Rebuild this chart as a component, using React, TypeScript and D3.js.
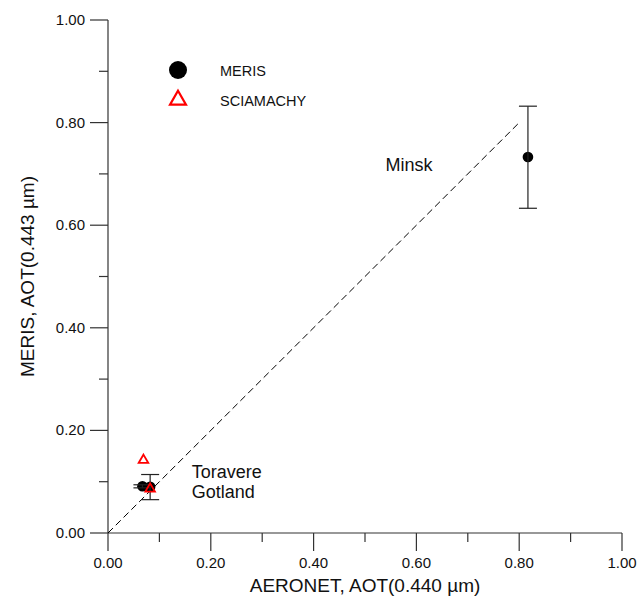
import React from "react";
import * as d3 from "d3";

const merisX = [0.067, 0.082, 0.817];
const merisY = [0.091, 0.09, 0.733];
const merisLow = [0.088, 0.065, 0.633];
const merisHigh = [0.094, 0.114, 0.832];
const sciaX = [0.069, 0.082];
const sciaY = [0.142, 0.086];
const majorTicks = [0, 0.2, 0.4, 0.6, 0.8, 1.0];
const minorTicks = [0.1, 0.3, 0.5, 0.7, 0.9];
const oneToOne = [0, 0.8];
const siteLabels = [
  { text: "Minsk", x: 0.54, y: 0.705 },
  { text: "Toravere", x: 0.163, y: 0.108 },
  { text: "Gotland", x: 0.163, y: 0.069 },
];
const legendItems = ["MERIS", "SCIAMACHY"];

const W = 640;
const H = 596;
const FONT = "Liberation Sans, Arial, sans-serif";

export default function App() {
  const x = d3.scaleLinear().domain([0, 1]).range([108, 622]);
  const y = d3.scaleLinear().domain([0, 1]).range([533, 20]);
  const fmt = d3.format(".2f");
  const tri = d3.symbol().type(d3.symbolTriangle);
  const triSmall = tri.size(40)() as string;
  const triLegend = tri.size(110)() as string;
  const axisColor = "#333";

  return (
    <svg
      width={W}
      height={H}
      style={{ position: "absolute", left: 0, top: 0, background: "#fff" }}
      fontFamily={FONT}
    >
      {/* axes */}
      <line x1={x(0)} x2={x(1)} y1={y(0)} y2={y(0)} stroke={axisColor} strokeWidth={1.2} />
      <line x1={x(0)} x2={x(0)} y1={y(0)} y2={y(1)} stroke={axisColor} strokeWidth={1.2} />
      {majorTicks.map((t) => (
        <g key={"xm" + t}>
          <line x1={x(t)} x2={x(t)} y1={y(0)} y2={y(0) + 18} stroke={axisColor} strokeWidth={1.2} />
          <text x={x(t)} y={568} textAnchor="middle" fontSize={15} fill="#111">
            {fmt(t)}
          </text>
          <line x1={x(0) - 18} x2={x(0)} y1={y(t)} y2={y(t)} stroke={axisColor} strokeWidth={1.2} />
          <text x={85} y={y(t) + 5} textAnchor="end" fontSize={15} fill="#111">
            {fmt(t)}
          </text>
        </g>
      ))}
      {minorTicks.map((t) => (
        <g key={"xn" + t}>
          <line x1={x(t)} x2={x(t)} y1={y(0)} y2={y(0) + 9} stroke={axisColor} strokeWidth={1.2} />
          <line x1={x(0) - 9} x2={x(0)} y1={y(t)} y2={y(t)} stroke={axisColor} strokeWidth={1.2} />
        </g>
      ))}
      <text x={x(0.5)} y={592} textAnchor="middle" fontSize={19} fill="#111">
        AERONET, AOT(0.440 µm)
      </text>
      <text
        transform={`translate(34, ${y(0.5)}) rotate(-90)`}
        textAnchor="middle"
        fontSize={19}
        fill="#111"
      >
        MERIS, AOT(0.443 µm)
      </text>

      {/* 1:1 line */}
      <line
        x1={x(oneToOne[0])}
        y1={y(oneToOne[0])}
        x2={x(oneToOne[1])}
        y2={y(oneToOne[1])}
        stroke="#000"
        strokeWidth={1}
        strokeDasharray="7,4"
      />

      {/* MERIS points */}
      {merisX.map((v, i) => (
        <circle key={"m" + i} cx={x(v)} cy={y(merisY[i])} r={5.3} fill="#000" />
      ))}
      {merisX.map((v, i) => (
        <g key={"e" + i} stroke="#222" strokeWidth={1.2}>
          <line x1={x(v)} x2={x(v)} y1={y(merisLow[i])} y2={y(merisHigh[i])} />
          <line x1={x(v) - 9} x2={x(v) + 9} y1={y(merisLow[i])} y2={y(merisLow[i])} />
          <line x1={x(v) - 9} x2={x(v) + 9} y1={y(merisHigh[i])} y2={y(merisHigh[i])} />
        </g>
      ))}
      {/* SCIAMACHY points */}
      {sciaX.map((v, i) => (
        <path
          key={"s" + i}
          d={triSmall}
          transform={`translate(${x(v)}, ${y(sciaY[i])})`}
          fill="none"
          stroke="#ff0000"
          strokeWidth={1.8}
        />
      ))}

      {/* site labels */}
      {siteLabels.map((s) => (
        <text key={s.text} x={x(s.x)} y={y(s.y)} fontSize={18} fill="#111">
          {s.text}
        </text>
      ))}

      {/* legend */}
      <circle cx={178} cy={70} r={9} fill="#000" />
      <path d={triLegend} transform="translate(178, 100)" fill="none" stroke="#ff0000" strokeWidth={2.2} />
      {legendItems.map((t, i) => (
        <text key={t} x={220} y={75.5 + i * 30} fontSize={14.5} fill="#111">
          {t}
        </text>
      ))}
    </svg>
  );
}
